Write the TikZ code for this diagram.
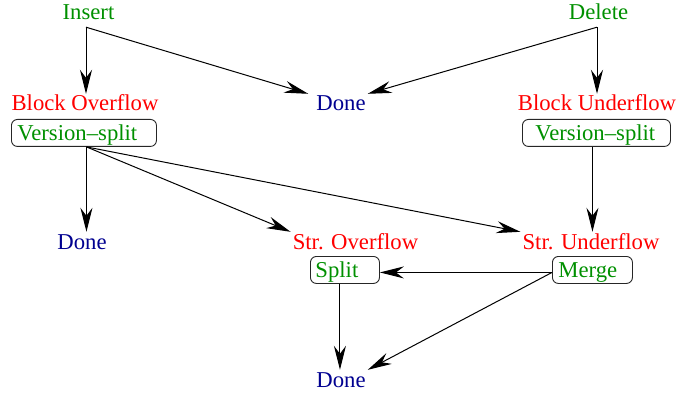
\documentclass[tikz,border=0pt]{standalone}
\usepackage{fontspec}
\setmainfont{Liberation Serif}
\usetikzlibrary{arrows.meta,calc}
\definecolor{lblgreen}{RGB}{0,144,0}
\definecolor{lblred}{RGB}{255,0,0}
\definecolor{lblblue}{RGB}{0,0,144}
\tikzset{
  lbl/.style={inner sep=2pt, text height=15pt, text depth=5pt, anchor=base,
    font=\fontsize{22.7}{27}\selectfont},
  evt/.style={lbl, text=lblgreen},
  cond/.style={lbl, text=lblred},
  fin/.style={lbl, text=lblblue},
  opbox/.style={draw=black!85, line width=0.9pt, rounded corners=6pt,
    anchor=north west, align=left, inner ysep=2.5pt,
    text height=18.5pt, text depth=3.5pt, text=lblgreen,
    font=\fontsize{22.7}{27}\selectfont},
  arr/.style={line width=1pt, -{Stealth[length=24pt, width=12pt, inset=8pt]}}
}
\begin{document}
\begin{tikzpicture}[x=1pt, y=-1pt]
\useasboundingbox (0,0) rectangle (676,395);
% events
\node[evt] (insert) at (88.5,20) {Insert};
\node[evt] (delete) at (598.5,20) {Delete};
% block level
\node[cond] (bo) at (85,111) {Block Overflow};
\node[fin] (done1) at (341,111) {Done};
\node[cond] (bu) at (597,111) {Block Underflow};
\node[opbox, inner xsep=6pt, text width=133pt] (vs1) at (11,119) {Version–split};
\node[opbox, inner xsep=13pt, text width=122pt] (vs2) at (522,119) {Version–split};
% structure level
\node[fin] (done2) at (82,249) {Done};
\node[cond] (so) at (355.5,249) {Str. Overflow};
\node[cond] (su) at (591,249) {Str. Underflow};
\node[opbox, inner xsep=5pt, text width=59pt] (split) at (310,256) {Split};
\node[opbox, inner xsep=6pt, text width=68pt] (merge) at (552,256) {Merge};
\node[fin] (done3) at (341,387) {Done};
% start points of the connectors
\coordinate (insout) at ([xshift=-2.5pt]insert.south);
\coordinate (delout) at ([xshift=-1.5pt]delete.south);
\coordinate (vs1out) at ([xshift=2.5pt]vs1.south);
\coordinate (vs2out) at ([xshift=-4pt]vs2.south);
\coordinate (mergeout) at ([yshift=-2.5pt]merge.west);
\coordinate (splitout) at ([xshift=-5pt]split.south);
% connectors
\draw[arr] (insout) -- (insout |- bo.north);
\draw[arr] (insout) -- ([xshift=-6pt]done1.north west);
\draw[arr] (delout) -- (delout |- bu.north);
\draw[arr] (delout) -- (done1.north east);
\draw[arr] (vs1out) -- (vs1out |- done2.north);
\draw[arr] (vs1out) -- (so.north west);
\draw[arr] (vs1out) -- (su.north west);
\draw[arr] (vs2out) -- (vs2out |- su.north);
\draw[arr] (mergeout) -- (mergeout -| split.east);
\draw[arr] (mergeout) -- (done3.north east);
\draw[arr] (splitout) -- (splitout |- done3.north);
\end{tikzpicture}
\end{document}
